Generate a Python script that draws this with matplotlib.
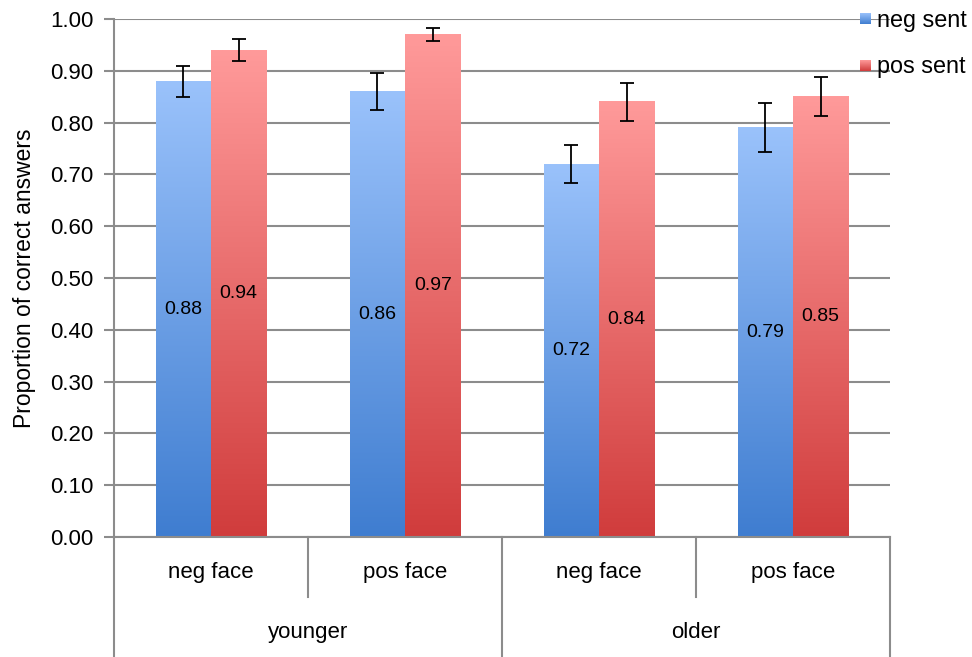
import numpy as np
import matplotlib
matplotlib.use("Agg")
import matplotlib.pyplot as plt
from matplotlib.colors import LinearSegmentedColormap

plt.rcParams['font.family'] = ['Liberation Sans', 'DejaVu Sans']

groups = ["younger", "older"]
faces = ["neg face", "pos face", "neg face", "pos face"]
series = ["neg sent", "pos sent"]
neg_sent = [0.88, 0.86, 0.72, 0.79]
pos_sent = [0.94, 0.97, 0.84, 0.85]
neg_err = [0.030, 0.035, 0.037, 0.047]
pos_err = [0.021, 0.013, 0.037, 0.038]
yticks = [0.0, 0.1, 0.2, 0.3, 0.4, 0.5, 0.6, 0.7, 0.8, 0.9, 1.0]

W, H = 972, 657
fig = plt.figure(figsize=(W / 100, H / 100), dpi=100)
ax = fig.add_axes([114 / W, (H - 537) / H, (890 - 114) / W, (537 - 19) / H])

blue_cmap = LinearSegmentedColormap.from_list("b", ["#3f7dd0", "#9ac2fb"])
red_cmap = LinearSegmentedColormap.from_list("r", ["#d03c3c", "#ff9a9a"])
grad = np.linspace(0, 1, 256).reshape(-1, 1)

bw = 0.286
x = np.arange(len(faces))

for vals, errs, cmap, off in [(neg_sent, neg_err, blue_cmap, -bw / 2),
                              (pos_sent, pos_err, red_cmap, bw / 2)]:
    for xi, v, e in zip(x, vals, errs):
        x0 = xi + off - bw / 2
        ax.imshow(grad, cmap=cmap, origin="lower", aspect="auto",
                  extent=[x0, x0 + bw, 0, v], zorder=2, interpolation="bilinear")
        ax.errorbar(xi + off, v, yerr=e, color="black", capsize=5,
                    elinewidth=1.3, capthick=1.3, zorder=4)
        ax.text(xi + off, v / 2, f"{v:.2f}", ha="center", va="center",
                fontsize=14, zorder=5)

ax.set_xlim(-0.5, len(faces) - 0.5)
ax.set_ylim(0, 1.0)
ax.set_yticks(yticks)
ax.set_yticklabels([f"{t:.2f}" for t in yticks], fontsize=16)
ax.set_xticks([])
ax.yaxis.grid(True, color="#8c8c8c", linewidth=1.5, zorder=1)
ax.set_axisbelow(True)
for s in ["top", "right"]:
    ax.spines[s].set_visible(False)
ax.spines["left"].set_color("#8c8c8c")
ax.spines["left"].set_linewidth(1.5)
ax.spines["bottom"].set_color("#8c8c8c")
ax.spines["bottom"].set_linewidth(1.5)
ax.tick_params(axis="y", length=7, width=1.5, color="#8c8c8c", pad=8)
ax.set_ylabel("Proportion of correct answers", fontsize=16.5, labelpad=10)

# hierarchical category axis
tr = ax.get_xaxis_transform()
kw = dict(color="#8c8c8c", linewidth=1.5, clip_on=False, transform=tr)
for b in [-0.5, 1.5, 3.5]:
    ax.plot([b, b], [0, -0.25], **kw)
for b in [0.5, 2.5]:
    ax.plot([b, b], [0, -0.116], **kw)
for xi, f in zip(x, faces):
    ax.text(xi, -0.069, f, ha="center", va="center", fontsize=16, transform=tr)
for gi, g in enumerate(groups):
    ax.text(gi * 2 + 0.5, -0.185, g, ha="center", va="center", fontsize=16, transform=tr)

# legend
for yc, cmap, lab in [(20, blue_cmap, series[0]), (67, red_cmap, series[1])]:
    lax = fig.add_axes([860 / W, (H - yc - 4) / H, 11 / W, 11 / H])
    lax.imshow(grad, cmap=cmap, origin="lower", aspect="auto", extent=[0, 1, 0, 1])
    lax.axis("off")
    fig.text(877 / W, (H - yc) / H, lab, ha="left", va="center", fontsize=16.8)

fig.savefig("out.png", dpi=100)
